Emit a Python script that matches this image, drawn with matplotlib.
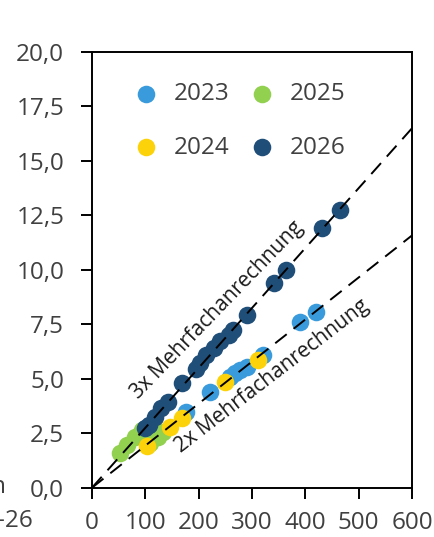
import numpy as np
import matplotlib
matplotlib.use('Agg')
import matplotlib.pyplot as plt

plt.rcParams['font.family'] = ['Open Sans', 'DejaVu Sans']

# Werte je Jahr (x, y)
x_2023 = [128, 177, 221, 259, 268, 278, 290, 321, 390, 420]
y_2023 = [2.5, 3.49, 4.41, 5.1, 5.25, 5.4, 5.56, 6.09, 7.6, 8.05]

x_2024 = [103, 146, 168, 249, 312]
y_2024 = [1.9, 2.78, 3.2, 4.87, 5.88]

x_2025 = [52, 65, 81, 93, 109, 124, 134]
y_2025 = [1.6, 1.96, 2.34, 2.65, 2.04, 2.34, 2.57]

x_2026 = [99, 106, 118, 130, 143, 168, 195, 203, 214, 228, 240, 256, 265, 290, 342, 364, 432, 465]
y_2026 = [2.73, 2.88, 3.26, 3.65, 3.95, 4.79, 5.45, 5.71, 6.09, 6.4, 6.73, 7.0, 7.24, 7.93, 9.41, 10.0, 11.9, 12.75]

# Steigungen der Referenzlinien
steigung_3x = 0.0275
steigung_2x = 0.0193

x_ticks = [0, 100, 200, 300, 400, 500, 600]
y_ticks = [0, 2.5, 5, 7.5, 10, 12.5, 15, 17.5, 20]
y_ticklabels = ['0,0', '2,5', '5,0', '7,5', '10,0', '12,5', '15,0', '17,5', '20,0']

grau = '#404040'
farben = {'2023': '#3a9bdc', '2024': '#fcd20a', '2025': '#92d050', '2026': '#1f4e79'}

fig = plt.figure(figsize=(4.35, 5.37), dpi=100)
ax = fig.add_axes([92/435, 49.3/537, 320/435, 435.7/537])

ms = 160
ax.scatter(x_2023, y_2023, s=ms, color=farben['2023'], lw=0, zorder=2, label='2023')
ax.scatter(x_2024, y_2024, s=ms, color=farben['2024'], lw=0, zorder=3, label='2024')
ax.scatter(x_2025, y_2025, s=ms, color=farben['2025'], lw=0, zorder=2, label='2025')
ax.scatter(x_2026, y_2026, s=ms, color=farben['2026'], lw=0, zorder=2, label='2026')

xx = np.array([0, 600])
ax.plot(xx, steigung_3x * xx, color='black', lw=1.4, ls=(0, (7.5, 4.5)), zorder=4)
ax.plot(xx, steigung_2x * xx, color='black', lw=1.4, ls=(0, (7.5, 4.5)), zorder=4)

ax.text(234, 8.15, '3x Mehrfachanrechnung', rotation=46, ha='center', va='center',
        fontsize=15, color='#1a1a1a', rotation_mode='anchor')
ax.text(338, 5.1, '2x Mehrfachanrechnung', rotation=37.5, ha='center', va='center',
        fontsize=15, color='#1a1a1a', rotation_mode='anchor')

ax.set_xlim(0, 600)
ax.set_ylim(0, 20)
ax.set_xticks(x_ticks)
ax.set_xticklabels([str(t) for t in x_ticks])
ax.set_yticks(y_ticks)
ax.set_yticklabels(y_ticklabels)
ax.tick_params(direction='out', length=8, width=1.4, colors='black', labelcolor=grau,
               labelsize=17.5, pad=12)
ax.tick_params(axis='x', pad=9)
for s in ax.spines.values():
    s.set_linewidth(1.4)

ax.legend(loc='upper left', bbox_to_anchor=(0.13, 0.93), ncol=2, frameon=False,
          fontsize=17.5, labelcolor=grau, handlelength=1.0, handletextpad=0.65,
          columnspacing=0.85, labelspacing=1.2, borderpad=0, borderaxespad=0,
          markerscale=1.0)

# abgeschnittene Texte am Rand
fig.text(6/435, 1 - 487/537, 'n', ha='right', va='center', fontsize=17.5, color=grau)
fig.text(-3/435, 1 - 521/537, '-26', ha='left', va='center', fontsize=17.5, color=grau)

fig.savefig('out.png', dpi=100)
